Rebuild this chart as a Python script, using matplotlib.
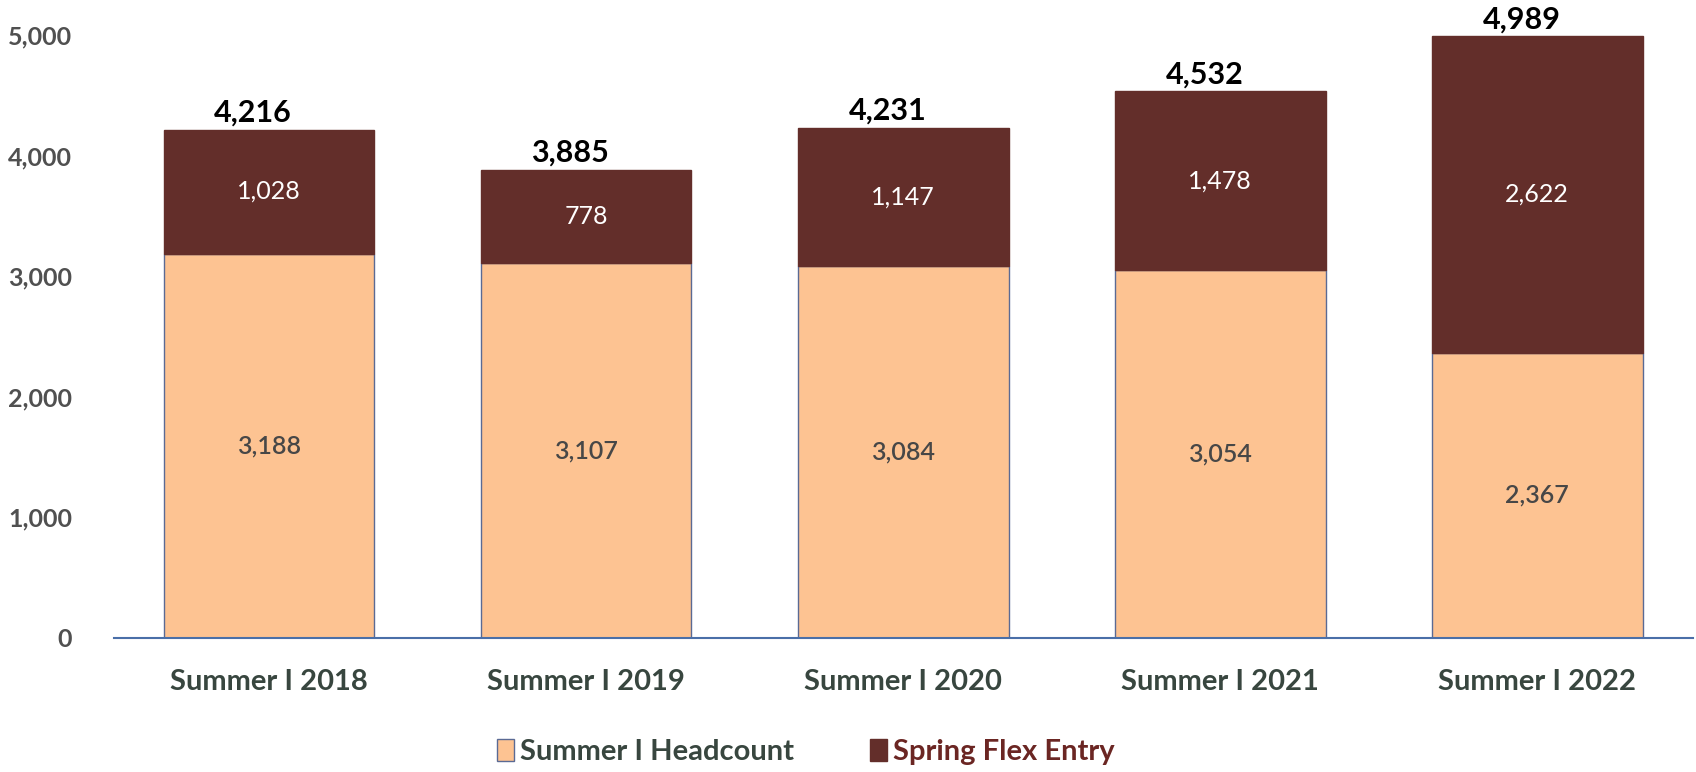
import matplotlib.pyplot as plt
from matplotlib.patches import Patch

# data
categories = ['Summer I 2018', 'Summer I 2019', 'Summer I 2020', 'Summer I 2021', 'Summer I 2022']
headcount = [3188, 3107, 3084, 3054, 2367]
flex_entry = [1028, 778, 1147, 1478, 2622]
series_names = ['Summer I Headcount', 'Spring Flex Entry']
y_ticks = [0, 1000, 2000, 3000, 4000, 5000]

light = '#fdc392'
dark = '#632e2a'
edge = '#5a6a94'
label_grey = '#474747'
cat_color = '#38463f'

plt.rcParams['font.family'] = ['Lato', 'DejaVu Sans']

fig = plt.figure(figsize=(16.96, 7.72), dpi=100)
ax = fig.add_axes([0.067, 0.1736, 0.931, 0.781])

x = list(range(len(categories)))
totals = [a + b for a, b in zip(headcount, flex_entry)]

ax.bar(x, headcount, width=0.665, color=light, edgecolor=edge, linewidth=1.0)
ax.bar(x, flex_entry, bottom=headcount, width=0.665, color=dark, edgecolor=dark, linewidth=1.0)

# segment labels
for i in x:
    ax.text(i, headcount[i] / 2, f'{headcount[i]:,}', ha='center', va='center',
            fontsize=18, color=label_grey, fontweight='semibold')
    ax.text(i, headcount[i] + flex_entry[i] / 2, f'{flex_entry[i]:,}', ha='center', va='center',
            fontsize=18, color='white')
    ax.text(i - 0.05, totals[i] + 25, f'{totals[i]:,}', ha='center', va='bottom',
            fontsize=22, color='black', fontweight='bold')

ax.set_xlim(-0.49, 4.49)
ax.set_ylim(0, 5000)
ax.set_yticks(y_ticks)
ax.set_yticklabels([f'{v:,}' for v in y_ticks])
ax.set_xticks(x)
ax.set_xticklabels(categories)

for s in ['top', 'right', 'left']:
    ax.spines[s].set_visible(False)
ax.spines['bottom'].set_color('#4a6fa8')
ax.spines['bottom'].set_linewidth(1.5)

ax.tick_params(axis='y', length=0, pad=30, labelsize=18, labelcolor='#505050')
ax.tick_params(axis='x', length=0, pad=22, labelsize=21, labelcolor=cat_color)
for t in ax.get_yticklabels():
    t.set_fontweight('bold')
for t in ax.get_xticklabels():
    t.set_fontweight('bold')

handles = [Patch(facecolor=light, edgecolor=edge), Patch(facecolor=dark, edgecolor=dark)]
leg = fig.legend(handles, series_names, loc='center', bbox_to_anchor=(0.475, 0.026), ncol=2,
                 frameon=False, fontsize=21, handlelength=0.6, handleheight=0.8,
                 handletextpad=0.2, columnspacing=2.6)
leg.get_texts()[0].set_color(cat_color)
leg.get_texts()[1].set_color('#6b2623')
for t in leg.get_texts():
    t.set_fontweight('bold')

fig.savefig('out.png', dpi=100)
